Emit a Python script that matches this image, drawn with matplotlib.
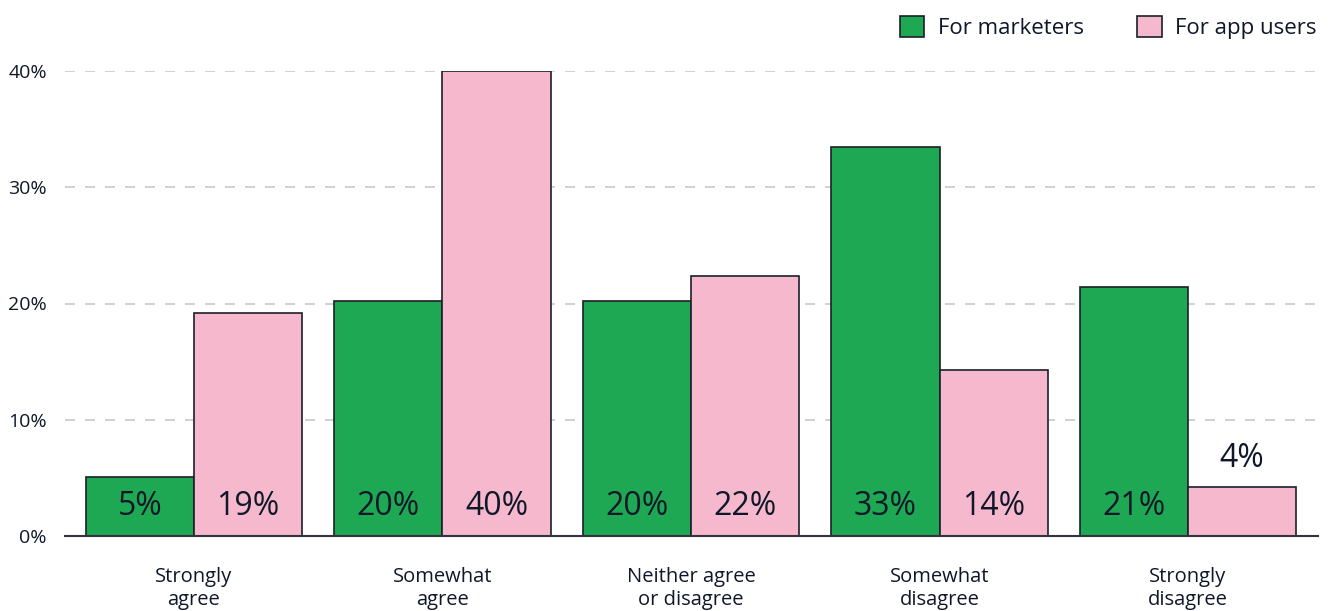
import matplotlib
matplotlib.use("Agg")
import matplotlib.pyplot as plt
from matplotlib.patches import Patch
import numpy as np

plt.rcParams['font.family'] = ['Open Sans', 'DejaVu Sans']

# Data
categories = ["Strongly\nagree", "Somewhat\nagree", "Neither agree\nor disagree",
              "Somewhat\ndisagree", "Strongly\ndisagree"]
marketers = [5.1, 20.2, 20.2, 33.5, 21.4]
app_users = [19.2, 40.0, 22.4, 14.3, 4.2]
marketers_labels = ["5%", "20%", "20%", "33%", "21%"]
app_users_labels = ["19%", "40%", "22%", "14%", "4%"]
yticks = [0, 10, 20, 30, 40]

green = "#1EA853"
pink = "#F5B8CD"
edge = "#1B1F2A"
txt = "#0F1729"

W, H = 1334, 611
fig = plt.figure(figsize=(W / 100, H / 100), dpi=100)
ax = fig.add_axes([65 / W, (H - 536) / H, (1318 - 65) / W, (536 - 71) / H])

x = np.arange(len(categories))
bw = 0.435
ax.bar(x - bw / 2, marketers, bw, color=green, edgecolor=edge, linewidth=1.2, zorder=3)
ax.bar(x + bw / 2, app_users, bw, color=pink, edgecolor=edge, linewidth=1.2, zorder=3)

# value labels near the bottom of each bar (above the bar if it is too short)
for xi, v, lab in zip(x - bw / 2, marketers, marketers_labels):
    y = 2.5 if v > 5 else v + 3.4
    ax.text(xi, y, lab, ha="center", va="center", fontsize=23, color=txt, zorder=4)
for xi, v, lab in zip(x + bw / 2, app_users, app_users_labels):
    y = 2.5 if v > 5 else v + 2.5
    ax.text(xi, y, lab, ha="center", va="center", fontsize=23, color=txt, zorder=4)

ax.set_xlim(-0.519, 4.523)
ax.set_ylim(0, 40)
ax.set_yticks(yticks)
ax.set_yticklabels([f"{t}%" for t in yticks], fontsize=14, color=txt)
ax.set_xticks(x)
ax.set_xticklabels(categories, fontsize=14.5, color=txt, linespacing=1.2)
ax.tick_params(axis="both", length=0)
ax.tick_params(axis="x", pad=22)
ax.tick_params(axis="y", pad=13)

for s in ["top", "right", "left"]:
    ax.spines[s].set_visible(False)
ax.spines["bottom"].set_color("#333340")
ax.spines["bottom"].set_linewidth(1.5)
ax.spines["bottom"].set_zorder(5)

ax.yaxis.grid(True, color="#C8C8C8", linestyle=(0, (6, 6)), linewidth=1.2, zorder=0)
ax.set_axisbelow(True)
for gl in ax.yaxis.get_gridlines()[:1]:
    gl.set_visible(False)

handles = [Patch(facecolor=green, edgecolor=edge, linewidth=1.2, label="For marketers"),
           Patch(facecolor=pink, edgecolor=edge, linewidth=1.2, label="For app users")]
fig.legend(handles=handles, loc="upper right", bbox_to_anchor=(1332 / W, 1.0), ncol=2,
           frameon=False, fontsize=16, handlelength=1.1, handleheight=1.1,
           handletextpad=0.6, columnspacing=2.4, labelcolor=txt, borderaxespad=0.3)

fig.savefig("out.png", dpi=100)
